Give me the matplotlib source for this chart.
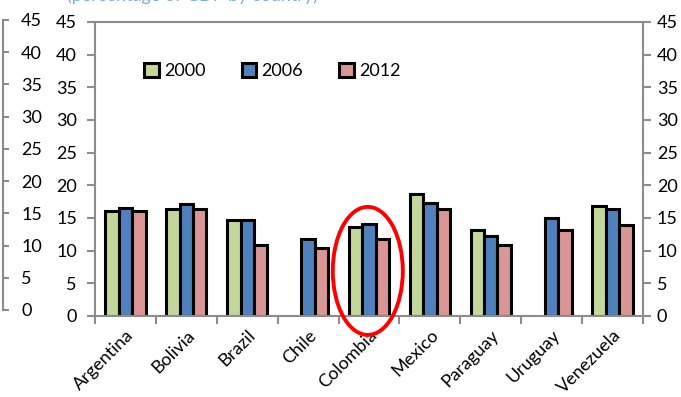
import matplotlib.pyplot as plt
from matplotlib.patches import Ellipse
import numpy as np

plt.rcParams['font.family'] = ['Lato', 'DejaVu Sans']

countries = ['Argentina', 'Bolivia', 'Brazil', 'Chile', 'Colombia',
             'Mexico', 'Paraguay', 'Uruguay', 'Venezuela']
y2000 = [16.0, 16.4, 14.7, np.nan, 13.6, 18.7, 13.2, np.nan, 16.9]
y2006 = [16.6, 17.1, 14.7, 11.8, 14.1, 17.3, 12.2, 15.0, 16.4]
y2012 = [16.0, 16.4, 10.8, 10.4, 11.8, 16.4, 10.8, 13.2, 13.9]
years = ['2000', '2006', '2012']
colors = ['#c4d79b', '#4f81bd', '#da9694']

gray = '#8c8c8c'
fs = 13
fig = plt.figure(figsize=(6.81, 3.97), dpi=100)
ax = fig.add_axes([95/681, 1 - 316/397, (643-95)/681, (316-22)/397])

x = np.arange(len(countries))
w = 0.22
for i, (vals, lab, c) in enumerate(zip([y2000, y2006, y2012], years, colors)):
    ax.bar(x + (i - 1) * w, vals, w, color=c, edgecolor='black', linewidth=2.2, label=lab)

ax.set_xlim(-0.5, len(countries) - 0.5)
ax.set_ylim(0, 45)
ax.set_yticks(range(0, 46, 5))
ax.set_xticks(x)
ax.set_xticklabels(countries, rotation=45, ha='right', rotation_mode='anchor')
ax.set_xticks(np.arange(-0.5, len(countries)), minor=True)
ax.tick_params(axis='x', which='major', length=0, pad=8, labelsize=fs)
ax.tick_params(axis='x', which='minor', length=6, width=1.5, color=gray, direction='out')
ax.tick_params(axis='y', length=6, width=1.5, color=gray, labelsize=fs, pad=7)
for s in ax.spines.values():
    s.set_color(gray)
    s.set_linewidth(1.5)

ax2 = ax.twinx()
ax2.set_ylim(0, 45)
ax2.set_yticks(range(0, 46, 5))
ax2.tick_params(axis='y', length=6, width=1.5, color=gray, labelsize=fs, pad=4)
for s in ax2.spines.values():
    s.set_visible(False)

# outer left axis
ax3 = fig.add_axes([0, 1 - 310/397, 3/681, (310-20)/397])
ax3.set_ylim(0, 45)
ax3.set_yticks(range(0, 46, 5))
ax3.set_xticks([])
ax3.yaxis.tick_right()
ax3.tick_params(axis='y', length=4, width=1.5, color=gray, labelsize=fs, pad=9)
for k, s in ax3.spines.items():
    s.set_visible(k == 'right')
    s.set_color(gray)
    s.set_linewidth(1.5)
ax3.patch.set_visible(False)

ell = Ellipse((3.98, 6.9), 1.15, 19.6, fill=False, edgecolor='#ff0000', linewidth=2.8,
              clip_on=False, zorder=5)
ax.add_patch(ell)

ax.legend(loc='upper left', bbox_to_anchor=(0.06, 0.915), ncol=3, frameon=False,
          fontsize=fs, handlelength=0.8, handleheight=0.8, handletextpad=0.3,
          columnspacing=2.0)

fig.text(67/681, 1.012, '(percentage of GDP by country)', color='#7aaadb', fontsize=fs,
         va='center', ha='left')

fig.savefig('out.png', dpi=100)
